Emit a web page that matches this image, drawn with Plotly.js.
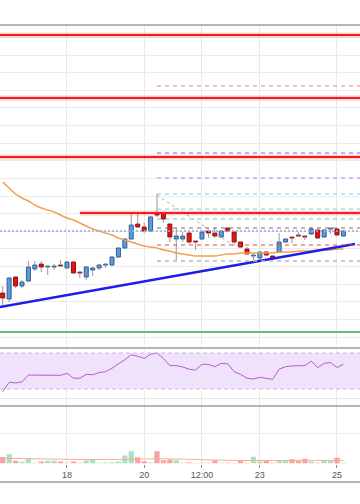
<!DOCTYPE html>
<html><head><meta charset="utf-8">
<script src="https://cdn.plot.ly/plotly-3.0.1.min.js"></script>
<style>html,body{margin:0;padding:0;background:#fff}#c{width:360px;height:504px}</style>
</head><body><div id="c"></div>
<script>
// ---- data (price in arbitrary units) ----
const startTime = Date.UTC(2023, 2, 16, 8, 0); // first 4h candle
const stepHours = 4;
const openP  = [107,101,123,114,119,131,136,133,133,134.5,132,138,127.5,123,130,132,135,135,143,152,161,176,173,169,187,187,176,161,161,167,158.5,161,169,167,163,172,168,158,151,144,142,148,144,148,158,162.5,164.5,163.5,166,170,163,171,171,164];
const closeP = [102,122,114,118,133,135,133,133.5,133.5,134,138,127,127,133,132,135,135.5,143,152,161,175,173,169,183,185,181,163,164,164,158,158,168,167,164,169,169,158,153,146,144.5,148,145,142,158,161,162,164,163,171,162,170,171.5,165,169];
const highP  = [114,123,124,120,139,139,139,135,136,140,139,138.5,128,134,132.5,136,137,144,153,162,187,187,177,184,206,187,177,172,168,167,158.5,170,170,173,170,173,168,158,153,146,149,149,145,167,162,163,168,164,173,171,171,172,172,170];
const lowP   = [93,98,112,112,118,129,128,125,130,133,132,126,122,120,124,130,132,134,142,151,160,172,167,168,183,177,158,140,158,156,150,160,162,162,162,169,155,152,146,140,140,144,141,147,157,157,163,160,165,162,162,166,164,163];
const maP    = [218,212,206,202,199,195,192,190,188,185,182,180,177,174,171,169,167,165,162,160,158,156,154,153,152,150,149,147,146,145,144,144,144,144,145,146,146,147,147,147,147,147,147,148,148,148,149,149,149,150,150,150,151,151];
const rsi    = [27,37.5,36.7,38,45.5,45.5,45.3,45,45,45.2,47.4,42,42,46.3,45.8,48.3,49.2,53,58,62.5,68,66.5,64,68.5,70,64,56,56,54.5,52,51,57.4,57.4,54.8,58.5,58,49.3,46.3,42,41,43,42,40.7,52,54.8,55.6,55.8,56,61,53.7,58.5,59.5,54,57.4];
const volume = [6.6,9.3,2.7,1.7,5,0.7,2,2.7,2.7,2,0.7,2,0.7,3,4.3,0.7,1,1.3,2,8,12.3,6.3,2.3,1,12.3,3.3,4,3.3,0.7,1,0.4,0.7,0.7,3.3,0.7,0.7,0.5,3.3,0.7,6.7,2,2.7,0.7,3.3,3.3,4.3,2.7,4.7,2,0.7,3.3,3.3,5.7,0.7];
const volMA  = [5.2,5.1,5,4.9,4.8,4.7,4.6,4.5,4.4,4.3,4.2,4.1,4.0,4.0,3.9,3.9,3.9,3.9,4.0,4.1,4.3,4.5,4.6,4.6,4.7,4.7,4.6,4.5,4.4,4.2,4.0,3.8,3.6,3.4,3.3,3.2,3.1,3.0,3.0,3.0,3.0,3.0,3.0,3.0,3.0,3.1,3.1,3.1,3.1,3.1,3.1,3.2,3.2,3.2];
const tickDates  = ['2023-03-18','2023-03-20','2023-03-21 12:00','2023-03-23','2023-03-25'];
const tickLabels = ['18','20','12:00','23','25'];
const redLevels  = [365, 302, 243];           // full-width resistance lines
const redShortLevel = 187; const redShortStartIdx = 12;
const fibLevels  = [314, 247, 222, 206, 191, 181, 172, 155, 139];
const fibStartIdx = 24;
const priceLine  = 169;
const greenLevel = 68;
const trendDates = ['2023-03-16 06:19','2023-03-25 11:12'];
const trendPrices = [93, 156];
const diagDates  = ['2023-03-20 08:00','2023-03-22 08:00'];
const diagPrices = [205, 154];
const rsiBand = [30, 70];
// ---- styles ----
const fibColors = ['rgba(255,90,90,0.85)','#b4b4f0','#c07ff0','#86c8ee','#86c8ee','#6cc9a8','#a05a5a','#d84848','#b8b8b8'];
const fibWidths = [1,2,1,1,1,1,1,1,1.5];
const xRange = ['2023-03-16 06:19','2023-03-25 14:19'];

function fmt(ms){ return new Date(ms).toISOString().slice(0,16).replace('T',' '); }
const times = openP.map((_, i) => fmt(startTime + i*stepHours*3600e3));
const stepMs = stepHours*3600e3;

// wicks split above / below the body
const wx = [], wy = [];
times.forEach((t,i)=>{
  const top = Math.max(openP[i], closeP[i]), bot = Math.min(openP[i], closeP[i]);
  wx.push(t,t,null,t,t,null); wy.push(highP[i],top,null,bot,lowP[i],null);
});
const up = i => closeP[i] >= openP[i];
function bodies(isUp){
  const x=[], base=[], h=[];
  times.forEach((t,i)=>{ if(up(i)===isUp){ x.push(t); base.push(Math.min(openP[i],closeP[i])); h.push(Math.max(0.9, Math.abs(closeP[i]-openP[i]))); }});
  return {x, base, y:h};
}
const bu = bodies(true), bd = bodies(false);

const traces = [
  {type:'bar', x:bu.x, y:bu.y, base:bu.base, width:0.62*stepMs, xaxis:'x', yaxis:'y',
   marker:{color:'#5f9bd8', line:{color:'#2e5d92', width:1}}, hoverinfo:'skip'},
  {type:'bar', x:bd.x, y:bd.y, base:bd.base, width:0.62*stepMs, xaxis:'x', yaxis:'y',
   marker:{color:'#e8120f', line:{color:'#8c1010', width:1}}, hoverinfo:'skip'},
  {type:'scatter', mode:'lines', x:wx, y:wy, xaxis:'x', yaxis:'y', line:{color:'#999999', width:1}, connectgaps:false, hoverinfo:'skip'},
  {type:'scatter', mode:'lines', x:times, y:maP, xaxis:'x', yaxis:'y', line:{color:'#f2a04e', width:1.5, shape:'spline'}, hoverinfo:'skip'},
  {type:'scatter', mode:'lines', x:trendDates, y:trendPrices, xaxis:'x', yaxis:'y', line:{color:'#1e1ee6', width:2.6}, hoverinfo:'skip'},
  {type:'scatter', mode:'lines', x:diagDates, y:diagPrices, xaxis:'x', yaxis:'y', line:{color:'#b0b0b0', width:1, dash:'3px,3px'}, hoverinfo:'skip'},
  {type:'scatter', mode:'lines', x:times, y:rsi, xaxis:'x2', yaxis:'y2', line:{color:'#b45ccc', width:1}, hoverinfo:'skip'},
  {type:'bar', x:times, y:volume, width:0.82*stepMs, xaxis:'x3', yaxis:'y3',
   marker:{color:times.map((_,i)=> up(i) ? 'rgba(70,185,130,0.45)' : 'rgba(240,70,80,0.5)')}, hoverinfo:'skip'},
  {type:'scatter', mode:'lines', x:times, y:volMA, xaxis:'x3', yaxis:'y3', line:{color:'#f7b27a', width:1, shape:'spline'}, hoverinfo:'skip'}
];

const shapes = [];
redLevels.forEach(v=>{
  shapes.push({type:'line', xref:'paper', x0:0, x1:1, yref:'y', y0:v, y1:v, line:{color:'rgba(255,0,0,0.18)', width:5}});
  shapes.push({type:'line', xref:'paper', x0:0, x1:1, yref:'y', y0:v, y1:v, line:{color:'#f41c1c', width:2}});
});
shapes.push({type:'line', xref:'x', x0:times[redShortStartIdx], x1:xRange[1], yref:'y', y0:redShortLevel, y1:redShortLevel, line:{color:'rgba(255,0,0,0.18)', width:5}});
shapes.push({type:'line', xref:'x', x0:times[redShortStartIdx], x1:xRange[1], yref:'y', y0:redShortLevel, y1:redShortLevel, line:{color:'#f41c1c', width:2}});
fibLevels.forEach((v,k)=>{
  shapes.push({type:'line', xref:'x', x0:times[fibStartIdx], x1:xRange[1], yref:'y', y0:v, y1:v, line:{color:fibColors[k], width:fibWidths[k], dash:'4px,4px'}});
});
shapes.push({type:'line', xref:'paper', x0:0, x1:1, yref:'y', y0:priceLine, y1:priceLine, line:{color:'#8fb0ef', width:1.5, dash:'2px,2px'}});
shapes.push({type:'line', xref:'paper', x0:0, x1:1, yref:'y', y0:greenLevel, y1:greenLevel, line:{color:'#6dbb6f', width:2}});
// RSI band
shapes.push({type:'rect', xref:'paper', x0:0, x1:1, yref:'y2', y0:rsiBand[0], y1:rsiBand[1], fillcolor:'rgba(190,130,245,0.23)', line:{width:0}, layer:'below'});
rsiBand.forEach(v=>shapes.push({type:'line', xref:'paper', x0:0, x1:1, yref:'y2', y0:v, y1:v, line:{color:'#cdb6dc', width:1, dash:'4px,3px'}}));
// panel borders
[1-25/504, 1-348/504, 1-406/504, 1-482/504].forEach(p=>shapes.push({type:'line', xref:'paper', yref:'paper', x0:0, x1:1, y0:p, y1:p, line:{color:'#9e9e9e', width:1.5}}));

const gx = {type:'date', range:xRange, tickvals:tickDates, ticktext:tickLabels, showgrid:true, gridcolor:'#e9e9e9', gridwidth:1, zeroline:false, showline:false, ticks:'', showticklabels:false, fixedrange:true};
const layout = {
  width:360, height:504, margin:{l:0,r:0,t:0,b:0}, paper_bgcolor:'#ffffff', plot_bgcolor:'#ffffff',
  showlegend:false, barmode:'overlay', hovermode:false,
  xaxis: Object.assign({}, gx, {anchor:'y'}),
  xaxis2: Object.assign({}, gx, {anchor:'y2', matches:'x'}),
  xaxis3: Object.assign({}, gx, {anchor:'y3', matches:'x', showticklabels:true, ticks:'outside', ticklen:3, tickcolor:'#888',
          tickfont:{family:'Liberation Sans, Arial, sans-serif', size:9, color:'#555'}}),
  yaxis: {domain:[1-345/504, 1-25/504], range:[55,375], tick0:345, dtick:17.625, showticklabels:false, gridcolor:'#ececec', zeroline:false, fixedrange:true},
  yaxis2:{domain:[1-406/504, 1-348/504], range:[11.11,75.56], tickvals:[20,40,60], showticklabels:false, gridcolor:'#e9e9e9', zeroline:false, fixedrange:true},
  yaxis3:{domain:[1-463.5/504, 1-406/504], range:[0,57.5], tickvals:[30.5], showticklabels:false, gridcolor:'#ededed', zeroline:false, fixedrange:true},
  shapes: shapes
};
Plotly.newPlot('c', traces, layout, {displayModeBar:false, staticPlot:true});
</script></body></html>
